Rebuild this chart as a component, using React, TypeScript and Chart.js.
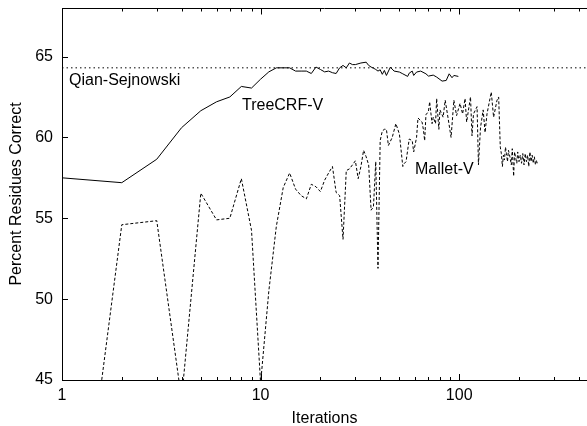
import { useEffect, useRef } from "react";
import { Chart, registerables } from "chart.js";

Chart.register(...registerables);

const FONT = '"Liberation Sans", Arial, Helvetica, sans-serif';

// TreeCRF-V (solid)
const treeIter = [1, 2, 3, 4, 5, 6, 7, 8, 9, 10, 11, 12, 13, 14, 15, 16, 17, 18, 19, 20, 21, 22, 23, 24, 25, 26, 27, 28, 29, 30, 32, 34, 35, 36, 37, 38, 39, 40, 41, 42, 43, 45, 47, 50, 52, 55, 56, 58, 59, 61, 64, 68, 70, 74, 77, 82, 86, 89, 92, 94, 99];
const treeVals = [57.5, 57.2, 58.65, 60.6, 61.65, 62.2, 62.5, 63.15, 63.05, 63.6, 64.05, 64.3, 64.3, 64.3, 64.1, 64.1, 64.1, 63.95, 64.35, 64.2, 64.05, 64.1, 64.0, 63.95, 64.3, 64.45, 64.3, 64.6, 64.5, 64.5, 64.6, 64.65, 64.45, 64.35, 64.28, 64.2, 64.1, 64.18, 63.9, 64.14, 63.83, 64.34, 64.1, 64.04, 63.93, 63.77, 63.97, 64.1, 63.83, 64.04, 64.1, 63.93, 63.79, 63.85, 63.73, 63.48, 63.52, 63.93, 63.69, 63.83, 63.77];

// Mallet-V (dashed)
const malletIter = [1, 2, 3, 4, 5, 6, 7, 8, 9, 10, 11, 12, 13, 14, 15, 16, 17, 18, 19, 20, 21, 22, 23, 24, 25, 26, 27, 28, 29, 30, 31, 32, 33, 34, 35, 36, 37, 38, 39, 40, 41, 42, 43, 44, 46, 48, 50, 52, 53, 54, 56, 58, 59, 61, 62, 65, 66, 67, 68, 70, 71, 73, 74, 76, 77, 79, 80, 83, 85, 88, 91, 94, 97, 101, 104, 107, 109, 114, 116, 118, 123, 125, 128, 132, 135, 138, 145, 149, 155, 158, 161, 163, 165, 167, 169, 171, 173, 175, 177, 180, 183, 185, 188, 190, 192, 195, 197, 200, 203, 206, 209, 212, 215, 218, 221, 224, 227, 230, 233, 236, 239, 242, 245, 247];
const malletVals = [26, 54.6, 54.85, 43.8, 56.55, 54.9, 55.0, 57.45, 54.25, 44.8, 50.5, 54.5, 56.9, 57.8, 56.8, 56.4, 56.2, 57.1, 56.95, 56.65, 57.35, 57.8, 58.2, 56.6, 56.4, 53.7, 57.95, 58.05, 58.3, 58.55, 57.45, 58.2, 59.2, 58.8, 58.3, 55.5, 55.7, 58.5, 51.9, 59.8, 60.4, 60.5, 60.5, 59.5, 60.0, 60.85, 60.2, 58.2, 58.4, 58.5, 59.9, 59.8, 59.1, 60.0, 61.2, 60.95, 60.5, 59.8, 61.4, 61.6, 62.2, 60.85, 61.25, 60.85, 62.4, 60.5, 61.7, 61.25, 62.3, 61.15, 60.0, 62.3, 61.35, 62.1, 61.45, 62.4, 60.95, 62.5, 60.1, 61.45, 61.9, 58.3, 60.6, 61.7, 60.3, 61.45, 62.8, 61.25, 62.3, 62.5, 59.4, 59.0, 58.2, 58.9, 58.6, 59.4, 59.0, 58.5, 59.2, 58.8, 58.3, 59.3, 57.6, 59.1, 58.8, 58.4, 59.1, 58.5, 58.9, 58.4, 59.0, 58.3, 59.0, 58.5, 58.9, 58.2, 59.1, 58.5, 58.9, 58.4, 58.8, 58.3, 58.6, 58.4];

// Qian-Sejnowski reference level (dotted)
const qianIter = [1, 440];
const qianVals = [64.3, 64.3];

// Axes
const xMin = 1;
const xMax = 440;
const yMin = 45;
const yMax = 68;
const xTicks = [1, 2, 3, 4, 5, 6, 7, 8, 9, 10, 20, 30, 40, 50, 60, 70, 80, 90, 100, 200, 300, 400];
const xMajorTicks = [1, 10, 100];
const yTicks = [45, 50, 55, 60, 65];

// In-plot series labels (anchored in data units)
const labelTexts = ["Qian-Sejnowski", "TreeCRF-V", "Mallet-V"];
const labelX = [1.085, 8.06, 59.9];
const labelY = [63.49, 61.94, 57.99];

const decor = {
  id: "decor",
  afterDraw(chart: any) {
    const { ctx, chartArea, scales } = chart;
    const { left, right, top, bottom } = chartArea;
    const xs = scales.x;
    const ys = scales.y;
    ctx.save();
    ctx.strokeStyle = "#000";
    ctx.lineWidth = 1;
    ctx.setLineDash([]);
    ctx.beginPath();
    const t = Math.round(top) + 0.5;
    ctx.moveTo(left, t);
    ctx.lineTo(right, t);
    xTicks.forEach((v) => {
      const px = Math.round(xs.getPixelForValue(v)) + 0.5;
      const len = xMajorTicks.includes(v) ? 6 : 3;
      ctx.moveTo(px, bottom);
      ctx.lineTo(px, bottom - len);
      ctx.moveTo(px, t);
      ctx.lineTo(px, t + len);
    });
    yTicks.forEach((v) => {
      const py = Math.round(ys.getPixelForValue(v)) + 0.5;
      ctx.moveTo(left, py);
      ctx.lineTo(left + 6, py);
    });
    ctx.stroke();
    ctx.fillStyle = "#000";
    ctx.font = `16px ${FONT}`;
    ctx.textBaseline = "middle";
    ctx.textAlign = "left";
    labelTexts.forEach((txt, i) => {
      ctx.fillText(txt, xs.getPixelForValue(labelX[i]), ys.getPixelForValue(labelY[i]));
    });
    ctx.restore();
  },
};

export default function App() {
  const ref = useRef<HTMLCanvasElement>(null);
  useEffect(() => {
    if (!ref.current) return;
    const chart = new Chart(ref.current, {
      type: "line",
      data: {
        datasets: [
          {
            label: "Qian-Sejnowski",
            data: qianIter.map((x, i) => ({ x, y: qianVals[i] })),
            borderColor: "#000",
            borderWidth: 1,
            borderDash: [1.5, 3],
            pointRadius: 0,
            fill: false,
          },
          {
            label: "TreeCRF-V",
            data: treeIter.map((x, i) => ({ x, y: treeVals[i] })),
            borderColor: "#000",
            borderWidth: 1,
            pointRadius: 0,
            fill: false,
          },
          {
            label: "Mallet-V",
            data: malletIter.map((x, i) => ({ x, y: malletVals[i] })),
            borderColor: "#000",
            borderWidth: 1,
            borderDash: [3, 2],
            pointRadius: 0,
            fill: false,
          },
        ],
      },
      options: {
        responsive: false,
        devicePixelRatio: 1,
        animation: false,
        layout: { padding: { top: 8, left: 0, right: 0, bottom: 0 } },
        plugins: { legend: { display: false }, tooltip: { enabled: false } },
        elements: { line: { tension: 0 } },
        scales: {
          x: {
            type: "logarithmic",
            min: xMin,
            max: xMax,
            afterBuildTicks: (s: any) => {
              s.ticks = xTicks.map((v) => ({ value: v, major: xMajorTicks.includes(v) }));
            },
            afterFit: (s: any) => {
              s.height = 46;
              s.paddingLeft = 0;
              s.paddingRight = 0;
            },
            grid: { display: false, drawTicks: false },
            border: { display: true, color: "#000", width: 1 },
            ticks: {
              autoSkip: false,
              maxRotation: 0,
              padding: 6,
              color: "#000",
              font: { family: FONT, size: 16 },
              callback: (v: any) => (xMajorTicks.includes(Number(v)) ? String(v) : ""),
            },
            title: {
              display: true,
              text: "Iterations",
              color: "#000",
              font: { family: FONT, size: 16 },
              padding: { top: 0, bottom: -2.6 },
            },
          },
          y: {
            type: "linear",
            min: yMin,
            max: yMax,
            afterBuildTicks: (s: any) => {
              s.ticks = yTicks.map((v) => ({ value: v }));
            },
            afterFit: (s: any) => {
              s.width = 62;
              s.paddingTop = 0;
              s.paddingBottom = 0;
            },
            grid: { display: false, drawTicks: false },
            border: { display: true, color: "#000", width: 1 },
            ticks: {
              padding: 9,
              color: "#000",
              font: { family: FONT, size: 16 },
              callback: (v: any) => String(v),
            },
            title: {
              display: true,
              text: "Percent Residues Correct",
              color: "#000",
              font: { family: FONT, size: 16 },
              padding: { top: 7.4, bottom: 0 },
            },
          },
        },
      },
      plugins: [decor],
    });
    return () => chart.destroy();
  }, []);
  return (
    <div style={{ position: "fixed", left: 0, top: 0, width: 587, height: 426, overflow: "hidden", background: "#fff" }}>
      <canvas ref={ref} width={587} height={426} style={{ display: "block" }} />
    </div>
  );
}
